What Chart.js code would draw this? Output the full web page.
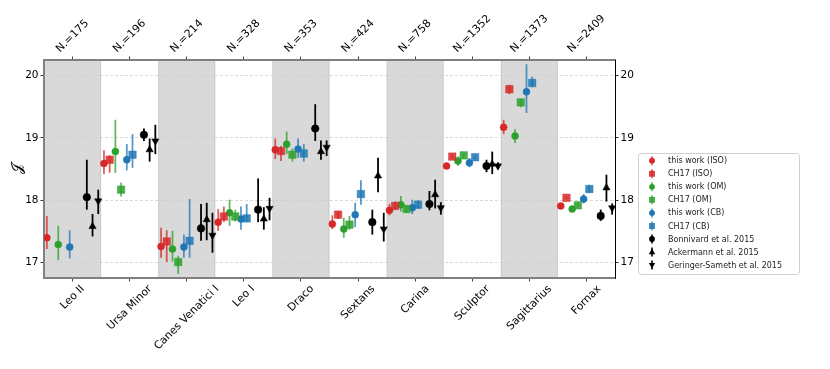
<!DOCTYPE html>
<html>
<head>
<meta charset="utf-8">
<script src="https://cdn.jsdelivr.net/npm/chart.js@4.4.1/dist/chart.umd.min.js"></script>
<style>
    html, body { margin: 0; padding: 0; background: #fff; }
    #wrap { width: 830px; height: 369px; }
</style>
</head>
<body>
<div id="wrap"><canvas id="jchart" width="830" height="369"></canvas></div>
<script>
const galaxies = ["Leo II", "Ursa Minor", "Canes Venatici I", "Leo I", "Draco",
    "Sextans", "Carina", "Sculptor", "Sagittarius", "Fornax"];
const stars = [175, 196, 214, 328, 353, 424, 758, 1352, 1373, 2409];
const yTicks = [17, 18, 19, 20];

// each entry: [J, lower end, upper end], null = not available
const thisIso = [[17.40, 17.22, 17.75], [18.59, 18.42, 18.80], [17.26, 17.08, 17.56], [17.65, 17.51, 17.86], [18.81, 18.66, 18.99],
    [17.62, 17.54, 17.76], [17.84, 17.76, 17.94], [18.55, 18.51, 18.59], [19.17, 19.06, 19.29], [17.91, 17.88, 17.94]];
const ch17Iso = [null, [18.65, 18.44, 18.72], [17.34, 17.01, 17.52], [17.74, 17.65, 17.90], [18.79, 18.63, 18.87],
    [17.77, 17.70, 17.83], [17.91, 17.85, 17.98], [18.70, 18.67, 18.73], [19.78, 19.70, 19.85], [18.04, 18.02, 18.06]];
const thisOm = [[17.29, 17.04, 17.59], [18.78, 18.44, 19.29], [17.22, 17.02, 17.51], [17.80, 17.59, 18.01], [18.90, 18.74, 19.10],
    [17.54, 17.40, 17.72], [17.93, 17.82, 18.07], [18.63, 18.55, 18.70], [19.03, 18.92, 19.14], [17.86, 17.83, 17.89]];
const ch17Om = [null, [18.17, 18.06, 18.28], [17.01, 16.82, 17.11], [17.74, 17.66, 17.85], [18.73, 18.62, 18.83],
    [17.61, 17.53, 17.75], [17.86, 17.80, 17.92], [18.72, 18.69, 18.75], [19.57, 19.49, 19.62], [17.92, 17.90, 17.95]];
const thisCb = [[17.25, 17.07, 17.52], [18.65, 18.48, 18.90], [17.25, 17.08, 17.45], [17.70, 17.53, 17.90], [18.82, 18.68, 18.99],
    [17.77, 17.57, 17.96], [17.88, 17.78, 18.01], [18.60, 18.53, 18.68], [19.74, 19.40, 20.18], [18.02, 17.95, 18.10]];
const ch17Cb = [null, [18.73, 18.52, 19.06], [17.35, 17.08, 18.02], [17.71, 17.65, 17.94], [18.75, 18.62, 18.90],
    [18.10, 17.93, 18.32], [17.93, 17.86, 18.00], [18.69, 18.66, 18.72], [19.88, 19.81, 19.98], [18.18, 18.12, 18.25]];
const bonnivard = [[18.05, 17.85, 18.65], [19.05, 18.95, 19.15], [17.55, 17.35, 17.94], [17.85, 17.65, 18.35], [19.15, 18.95, 19.54],
    [17.65, 17.45, 17.85], [17.94, 17.84, 18.15], [18.55, 18.45, 18.65], null, [17.75, 17.67, 17.85]];
const ackermann = [[17.58, 17.42, 17.78], [18.81, 18.62, 18.99], [17.69, 17.36, 17.96], [17.70, 17.53, 17.89], [18.78, 18.65, 18.96],
    [18.39, 18.13, 18.68], [18.09, 17.87, 18.33], [18.58, 18.42, 18.78], null, [18.20, 17.98, 18.41]];
const geringer = [[17.99, 17.78, 18.17], [18.95, 18.74, 19.21], [17.44, 17.16, 17.80], [17.87, 17.68, 18.04], [18.85, 18.71, 18.96],
    [17.54, 17.34, 17.80], [17.88, 17.77, 17.97], [18.55, 18.50, 18.61], null, [17.88, 17.77, 17.95]];

const RED = "#d62728", GREEN = "#2ca02c", BLUE = "#1f77b4";
Chart.defaults.font.family = "'DejaVu Sans', sans-serif";
Chart.defaults.font.size = 10.5;
Chart.defaults.color = "#000";

function fade(hex, a) {
    let n = parseInt(hex.slice(1), 16);
    return "rgba(" + (n >> 16) + "," + ((n >> 8) & 255) + "," + (n & 255) + "," + a + ")";
}

// slot = position inside a galaxy column (10 slots, slot 6 unused)
function makeSet(label, values, slot, color, style, radius, rotation, alpha) {
    let pts = [];
    values.forEach(function (v, i) {
        if (v) pts.push({x: i + (slot - 4.5) * 0.1, y: v[0], lo: v[1], hi: v[2]});
    });
    return {
        label: label,
        data: pts,
        pointStyle: style,
        pointRadius: radius,
        pointRotation: rotation,
        backgroundColor: fade(color, alpha),
        borderColor: fade(color, alpha),
        borderWidth: 0.5,
        barColor: color === "#000000" ? "#000" : fade(color, 0.75),
        showLine: false,
    };
}

const datasets = [
    makeSet("this work (ISO)", thisIso, 0, RED, "circle", 3.5, 0, 1),
    makeSet("CH17 (ISO)", ch17Iso, 1, RED, "rect", 5.3, 0, 0.85),
    makeSet("this work (OM)", thisOm, 2, GREEN, "circle", 3.5, 0, 1),
    makeSet("CH17 (OM)", ch17Om, 3, GREEN, "rect", 5.3, 0, 0.85),
    makeSet("this work (CB)", thisCb, 4, BLUE, "circle", 3.5, 0, 1),
    makeSet("CH17 (CB)", ch17Cb, 5, BLUE, "rect", 5.3, 0, 0.85),
    makeSet("Bonnivard et al. 2015", bonnivard, 7, "#000000", "circle", 3.8, 0, 1),
    makeSet("Ackermann et al. 2015", ackermann, 8, "#000000", "triangle", 4.2, 0, 1),
    makeSet("Geringer-Sameth et al. 2015", geringer, 9, "#000000", "triangle", 4.2, 180, 1),
];

const bands = {
    id: "bands",
    beforeDraw(chart) {
        const {ctx, chartArea: a, scales: {x}} = chart;
        ctx.save();
        galaxies.forEach(function (g, i) {
            if (i % 2) return;
            let l = x.getPixelForValue(i - 0.5), r = x.getPixelForValue(i + 0.5);
            ctx.fillStyle = "#d9d9d9";
            ctx.fillRect(l, a.top, r - l, a.bottom - a.top);
            ctx.strokeStyle = "rgba(0,0,0,0.08)";
            ctx.lineWidth = 1;
            ctx.beginPath();
            ctx.moveTo(l + 0.5, a.top); ctx.lineTo(l + 0.5, a.bottom);
            ctx.moveTo(r - 0.5, a.top); ctx.lineTo(r - 0.5, a.bottom);
            ctx.stroke();
        });
        ctx.restore();
    }
};

const errorBars = {
    id: "errorBars",
    beforeDatasetsDraw(chart) {
        const ctx = chart.ctx, y = chart.scales.y;
        chart.data.datasets.forEach(function (ds, d) {
            let meta = chart.getDatasetMeta(d);
            ctx.save();
            ctx.strokeStyle = ds.barColor;
            ctx.lineWidth = 1.8;
            ds.data.forEach(function (p, j) {
                let el = meta.data[j];
                ctx.beginPath();
                ctx.moveTo(el.x, y.getPixelForValue(p.lo));
                ctx.lineTo(el.x, y.getPixelForValue(p.hi));
                ctx.stroke();
            });
            ctx.restore();
        });
    }
};

function rotatedLabel(ctx, text, cx, edge, below, size) {
    let w = ctx.measureText(text).width;
    let half = (w + size * 1.1) / (2 * Math.SQRT2);
    ctx.save();
    ctx.translate(cx, below ? edge + half : edge - half);
    ctx.rotate(-Math.PI / 4);
    ctx.fillText(text, 0, 0);
    ctx.restore();
}

const axisLabels = {
    id: "axisLabels",
    afterDraw(chart) {
        const {ctx, chartArea: a, scales: {x}} = chart;
        ctx.save();
        ctx.font = "10.8px 'DejaVu Sans'";
        ctx.fillStyle = "#000";
        ctx.textAlign = "center";
        ctx.textBaseline = "middle";
        galaxies.forEach(function (g, i) {
            let px = x.getPixelForValue(i);
            rotatedLabel(ctx, g, px, a.bottom + 5, true, 10.8);
            rotatedLabel(ctx, "N.=" + stars[i], px, a.top - 5, false, 10.8);
        });
        ctx.restore();
    }
};

function drawMarker(ctx, ds, x, y) {
    ctx.fillStyle = ds.backgroundColor;
    ctx.beginPath();
    if (ds.pointStyle === "rect") {
        ctx.rect(x - 3, y - 3, 6, 6);
    } else if (ds.pointStyle === "triangle") {
        let s = ds.pointRotation ? -1 : 1;
        ctx.moveTo(x, y - 3.5 * s);
        ctx.lineTo(x + 3.2, y + 2.2 * s);
        ctx.lineTo(x - 3.2, y + 2.2 * s);
        ctx.closePath();
    } else {
        ctx.arc(x, y, 2.9, 0, Math.PI * 2);
    }
    ctx.fill();
}

const legendBox = {
    id: "legendBox",
    afterDraw(chart) {
        const ctx = chart.ctx;
        let left = 638.5, top = 153.5, w = 161, h = 121;
        ctx.save();
        ctx.fillStyle = "rgba(255,255,255,0.8)";
        ctx.strokeStyle = "#d0d0d0";
        ctx.lineWidth = 1;
        ctx.beginPath();
        ctx.roundRect(left, top, w, h, 3);
        ctx.fill();
        ctx.stroke();
        ctx.font = "8px 'DejaVu Sans'";
        ctx.textBaseline = "middle";
        chart.data.datasets.forEach(function (ds, i) {
            let y = 160.7 + i * 13.05, x = 652;
            ctx.strokeStyle = ds.barColor;
            ctx.lineWidth = 1.6;
            ctx.beginPath();
            ctx.moveTo(x, y - 4.5);
            ctx.lineTo(x, y + 4.5);
            ctx.stroke();
            drawMarker(ctx, ds, x, y);
            ctx.fillStyle = "#222";
            ctx.fillText(ds.label, 668, y + 0.5);
        });
        ctx.restore();
    }
};

function xAxis(position, height) {
    return {
        type: "linear",
        position: position,
        min: -0.5,
        max: 9.5,
        afterBuildTicks: function (s) { s.ticks = galaxies.map(function (g, i) { return {value: i}; }); },
        afterFit: function (s) { s.height = height; },
        ticks: {display: false},
        grid: {drawOnChartArea: false, drawTicks: true, tickLength: 3.5, tickColor: "#444", tickWidth: 1},
        border: {color: "#808080", width: 2},
    };
}

function yAxis(position, width, main) {
    return {
        type: "linear",
        position: position,
        min: 16.755,
        max: 20.248,
        afterBuildTicks: function (s) { s.ticks = yTicks.map(function (v) { return {value: v}; }); },
        afterFit: function (s) { s.width = width; },
        ticks: {padding: 2, color: "#000", font: {size: 10.5}},
        grid: {
            drawOnChartArea: main, color: "#cfcfcf", lineWidth: 0.8,
            tickLength: 3.5, tickColor: "#333", tickWidth: 1
        },
        border: main ? {color: "#808080", width: 2, dash: [3, 2]} : {color: "#000", width: 1},
        title: main ? {display: true, text: "𝒥", font: {size: 15}, padding: {top: 9, bottom: 0}} : {display: false},
    };
}

new Chart(document.getElementById("jchart").getContext("2d"), {
    type: "scatter",
    data: {datasets: datasets},
    options: {
        responsive: false,
        devicePixelRatio: 1,
        animation: false,
        events: [],
        layout: {padding: {left: 0, right: 190, top: 0, bottom: 0}},
        scales: {
            x: xAxis("bottom", 91),
            x2: xAxis("top", 60),
            y: yAxis("left", 44, true),
            y2: yAxis("right", 25, false),
        },
        plugins: {
            legend: {display: false},
            tooltip: {enabled: false},
        }
    },
    plugins: [bands, errorBars, axisLabels, legendBox]
});
</script>
</body>
</html>
